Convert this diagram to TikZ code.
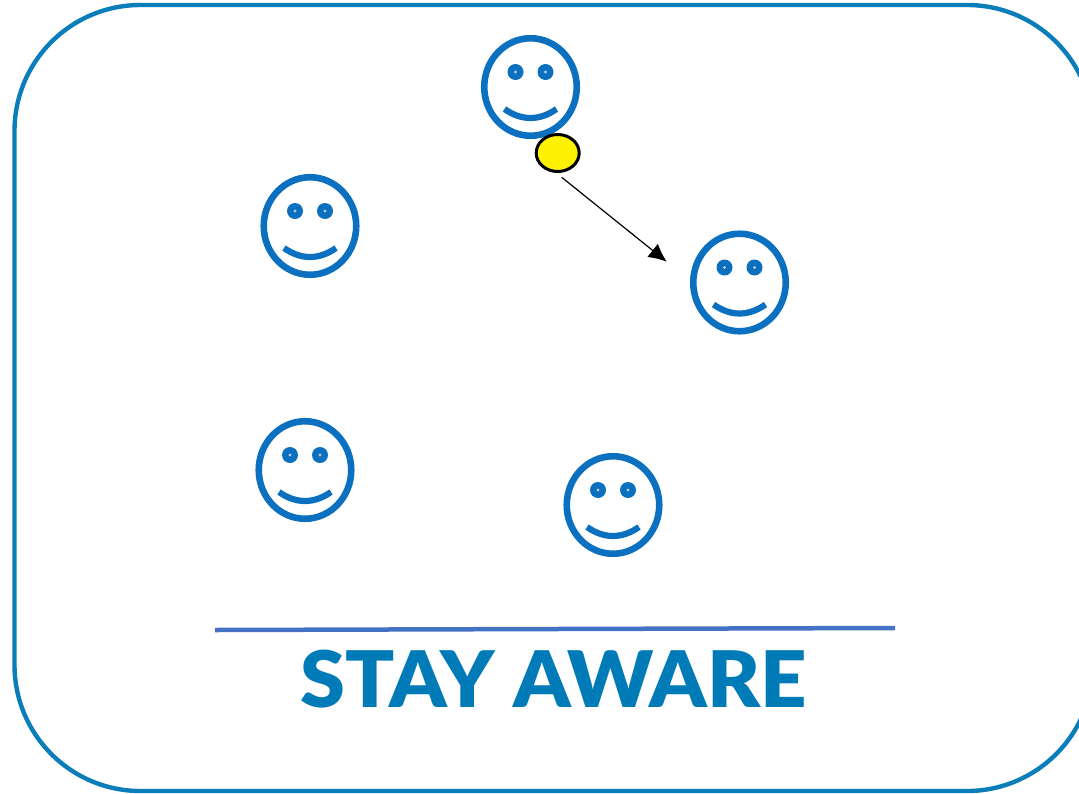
\documentclass[tikz,border=0pt]{standalone}
\usepackage{fontspec}
\setmainfont{Lato}
\newfontfamily\titlefont{Lato}[UprightFont={* Black},BoldFont={* Black}]
\usetikzlibrary{shapes.geometric,arrows.meta}
\definecolor{framec}{HTML}{0A7DBB}
\definecolor{facec}{HTML}{0B70C0}
\definecolor{rulec}{HTML}{4472C4}
\definecolor{titlec}{HTML}{007BB8}
\definecolor{dotc}{HTML}{B9C9D6}
\tikzset{
  frameline/.style={draw=framec,line width=4.4pt,rounded corners=126pt},
  facering/.style={shape=ellipse,draw=facec,line width=6.6pt,minimum width=92.5pt,minimum height=97.5pt,inner sep=0pt},
  eyeball/.style={shape=circle,fill=facec,minimum size=16pt,inner sep=0pt},
  eyedot/.style={fill=dotc},
  smileline/.style={draw=facec,line width=6.2pt},
  ball/.style={shape=ellipse,draw=black,line width=3pt,fill=yellow,minimum width=43pt,minimum height=37pt,inner sep=0pt},
  moveline/.style={draw=black,line width=1.2pt,-{Latex[length=18pt,width=17pt]}},
  rulerline/.style={draw=rulec,line width=4.5pt},
  title/.style={text=titlec,font=\titlefont\fontsize{78}{78}\selectfont,inner sep=0pt,xscale=1.04},
  pics/smiley/.style={code={
    \node[facering] (-ring) at (0,0) {};
    \node[eyeball] (-eyeL) at (-15,-15) {};
    \node[eyeball] (-eyeR) at (15,-15) {};
    \fill[eyedot] (-15,-15) circle (1.6pt);
    \fill[eyedot] (15,-15) circle (1.6pt);
    \draw[smileline] (-26,22) .. controls (-9,34) and (9,34) .. (26,22);
  }}
}
\begin{document}
\begin{tikzpicture}[x=1pt,y=-1pt]
\useasboundingbox (0,0) rectangle (1079,793);
\clip (0,0) rectangle (1079,793);
\draw[frameline] (14.5,5) rectangle (1093,791);
\pic (f1) at (530.5,87) {smiley};
\pic (f2) at (310,226) {smiley};
\pic (f3) at (739.5,282.5) {smiley};
\pic (f4) at (305,470) {smiley};
\pic (f5) at (613,505) {smiley};
\node[ball] (ball) at (557.7,153) {};
\coordinate (mvS) at (561.7,177.3);
\coordinate (mvE) at (666.7,261.7);
\draw[moveline] (mvS) -- (mvE);
\coordinate (ruleS) at (215,630);
\coordinate (ruleE) at (895,628);
\draw[rulerline] (ruleS) -- (ruleE);
\node[title] (stay) at (554,679) {STAY AWARE};
\end{tikzpicture}
\end{document}
